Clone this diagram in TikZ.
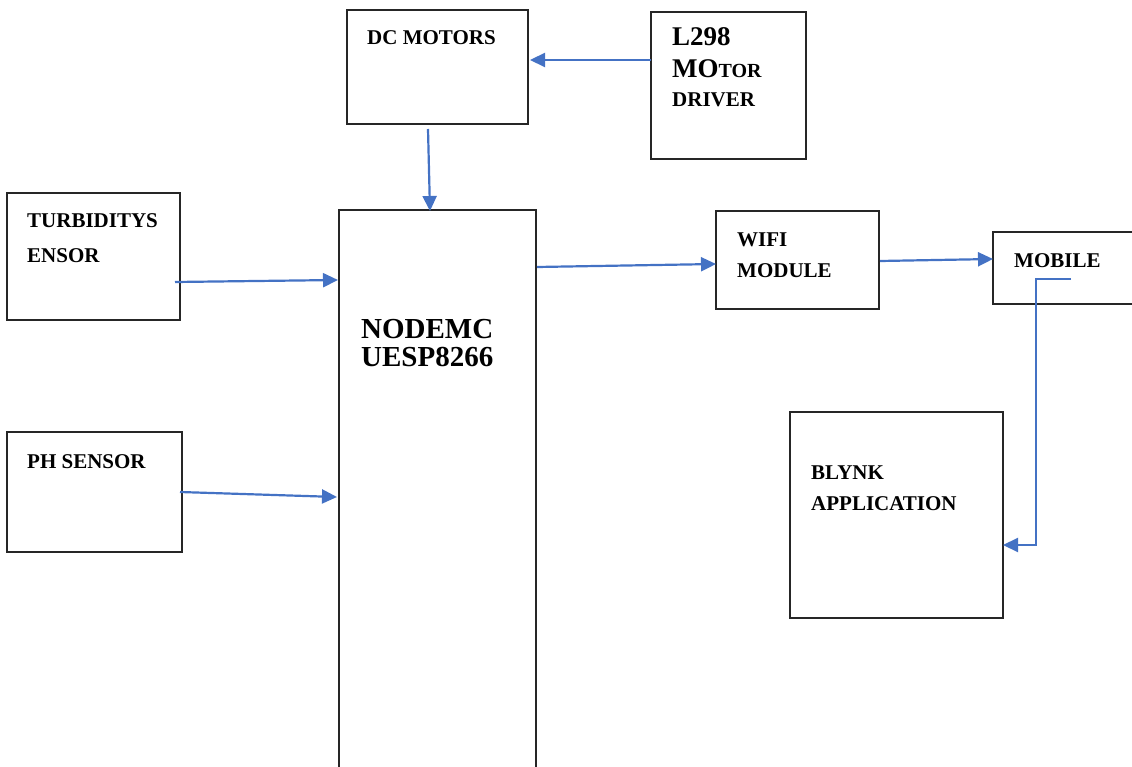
\documentclass[tikz,border=0pt]{standalone}
\usepackage{fontspec}
\setmainfont{Liberation Serif}
\usetikzlibrary{arrows.meta}
\definecolor{arrowblue}{RGB}{68,114,196}
\begin{document}
\begin{tikzpicture}[x=1pt,y=-1pt,
 box/.style={draw=black!85, line width=1.2pt, inner sep=0pt, outer sep=0pt, anchor=north west},
 lbl/.style={anchor=base west, inner sep=0pt, font=\bfseries\fontsize{21}{21}\selectfont},
 big/.style={anchor=base west, inner sep=0pt, font=\bfseries\fontsize{29}{29}\selectfont},
 conn/.style={draw=arrowblue, line width=2.2pt, -{Triangle[length=15pt,width=14pt]}}]
\useasboundingbox (0,0) rectangle (1132,767);
% boxes
\node[box, minimum width=181pt, minimum height=114pt] (dc) at (347,10) {};
\node[box, minimum width=155pt, minimum height=147pt] (l298) at (651,12) {};
\node[box, minimum width=173pt, minimum height=127pt] (turb) at (7,193) {};
\node[box, minimum width=197pt, minimum height=570pt] (node) at (339,210) {};
\node[box, minimum width=163pt, minimum height=98pt] (wifi) at (716,211) {};
\node[box, minimum width=150pt, minimum height=72pt] (mob) at (993,232) {};
\node[box, minimum width=213pt, minimum height=206pt] (blynk) at (790,412) {};
\node[box, minimum width=175pt, minimum height=120pt] (ph) at (7,432) {};
% labels
\node[lbl] (tdc) at (367,45) {DC MOTORS};
\node[anchor=base west, inner sep=0pt, font=\bfseries\fontsize{27}{27}\selectfont] (tl1) at (672,46) {L298};
\node[anchor=base west, inner sep=0pt, font=\bfseries] (tl2) at (672,78) {{\fontsize{27}{27}\selectfont MO}{\fontsize{20}{20}\selectfont TOR}};
\node[lbl] (tl3) at (672,107) {DRIVER};
\node[lbl] (tt1) at (27,228) {TURBIDITYS};
\node[lbl] (tt2) at (27,262) {ENSOR};
\node[big] (tn1) at (361,338) {NODEMC};
\node[big] (tn2) at (361,366) {UESP8266};
\node[lbl] (tw1) at (737,247) {WIFI};
\node[lbl] (tw2) at (737,277) {MODULE};
\node[lbl] (tm) at (1014,268) {MOBILE};
\node[lbl] (tph) at (27,468) {PH SENSOR};
\node[lbl] (tb1) at (811,479) {BLYNK};
\node[lbl] (tb2) at (811,510) {APPLICATION};
% connector points
\coordinate (c1) at (651,60);
\coordinate (c1e) at (530,60);
\coordinate (c2) at (428,129);
\coordinate (c2e) at (430,211);
\coordinate (c3) at (175,282);
\coordinate (c3e) at (338,280);
\coordinate (c4) at (180,492);
\coordinate (c4e) at (337,497);
\coordinate (c5) at (537,267);
\coordinate (c5e) at (716,264);
\coordinate (c6) at (880,261);
\coordinate (c6e) at (993,259);
\coordinate (c7) at (1071,279);
\coordinate (c7a) at (1036,279);
\coordinate (c7b) at (1036,545);
\coordinate (c7e) at (1003,545);
% connectors
\draw[conn] (c1) -- (c1e);
\draw[conn] (c2) -- (c2e);
\draw[conn] (c3) -- (c3e);
\draw[conn] (c4) -- (c4e);
\draw[conn] (c5) -- (c5e);
\draw[conn] (c6) -- (c6e);
\draw[conn] (c7) -- (c7a) -- (c7b) -- (c7e);
\end{tikzpicture}
\end{document}
